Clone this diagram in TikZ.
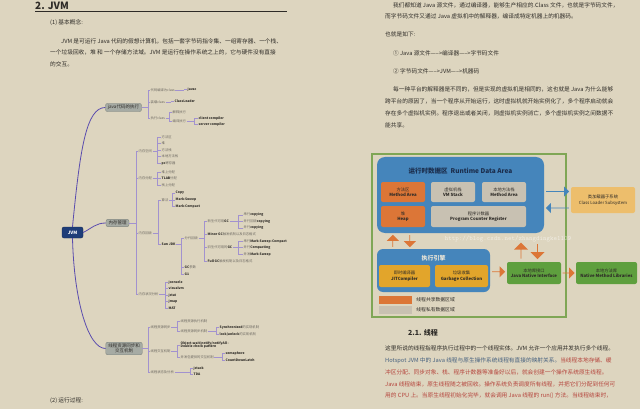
\documentclass[tikz,border=0pt]{standalone}
\usepackage{fontspec}
\setmainfont{Noto Sans CJK SC}
\usetikzlibrary{positioning,calc,shapes.arrows}
\definecolor{paper}{HTML}{DDD5BF}
\definecolor{ink}{HTML}{2E2B27}
\definecolor{soft}{HTML}{6B6760}
\definecolor{redink}{HTML}{B5443C}
\definecolor{blueink}{HTML}{45607F}
\definecolor{limbc}{HTML}{5A4CAE}
\definecolor{forkc}{HTML}{A292CF}
\definecolor{topicf}{HTML}{A6ABA4}
\definecolor{topicd}{HTML}{7E847E}
\definecolor{rootf}{HTML}{1E3D78}
\definecolor{area}{HTML}{4585BB}
\definecolor{shared}{HTML}{DC7637}
\definecolor{private}{HTML}{C8C1B2}
\definecolor{loader}{HTML}{EDBE6C}
\definecolor{engine}{HTML}{E2A52B}
\definecolor{native}{HTML}{5E9F3E}
\definecolor{frame}{HTML}{7FA655}
\definecolor{navy}{HTML}{1B2D4C}
\tikzset{
  txt/.style={anchor=west, inner sep=0pt, font=\fontsize{5.7}{7}\selectfont, text=ink},
  leaf/.style={anchor=west, inner sep=0.5pt, font=\fontsize{3.3}{3.9}\selectfont, text=soft, align=left},
  eleaf/.style={leaf, font=\bfseries\fontsize{3.3}{3.9}\selectfont, text=ink},
  topic/.style={draw=topicd, fill=topicf, rounded corners=2pt, inner xsep=2.5pt, inner ysep=1.6pt, align=center, font=\fontsize{4.5}{5.2}\selectfont, text=ink},
  fork/.style={draw=forkc, line width=0.5pt},
  limb/.style={draw=limbc, line width=0.8pt},
  box/.style={rounded corners=2pt, align=center, inner sep=0pt, font=\fontsize{4.3}{5.4}\selectfont, text=ink, fill=#1},
  blkarr/.style={single arrow, draw=none, fill=#1, inner sep=0pt, outer sep=0pt, single arrow head indent=0pt},
}
% bracket from a parent to its children, vertical bar at x=#2
\newcommand\mmfork[3]{%
  \coordinate (#1x) at (#2,0);
  \draw[fork] (#1.east) -- (#1.east -| #1x) coordinate (#1f);
  \foreach \kid in {#3} {\draw[fork] (#1f) |- (\kid.west);}
}
\begin{document}
\begin{tikzpicture}[x=1pt, y=-1pt]
\fill[paper] (0,0) rectangle (640,409);
\useasboundingbox (0,0) rectangle (640,409);

% ---------- left page
\node[anchor=west, inner sep=0pt, font=\bfseries\fontsize{10}{12}\selectfont, text=ink] (title) at (35,5.5) {2. JVM};
\draw[line width=0.9pt, ink] (35,11) -- (287,11);
\node[txt] (basic) at (50,23) {(1) 基本概念:};
\node[txt] (p1a) at (61,41) {JVM 是可运行 Java 代码的假想计算机，包括一套字节码指令集、一组寄存器、一个栈、};
\node[txt] (p1b) at (50,52.5) {一个垃圾回收，堆 和 一个存储方法域。JVM 是运行在操作系统之上的，它与硬件没有直接};
\node[txt] (p1c) at (50,64) {的交互。};
\node[txt] (runhd) at (50,401) {(2) 运行过程:};

% mind map
\node[draw=rootf!70!black, fill=rootf, rounded corners=2pt, minimum width=21pt, minimum height=11pt, inner sep=0pt, text=white, font=\bfseries\fontsize{4.5}{5}\selectfont] (jvm) at (72.5,232.5) {JVM};
\node[topic] (code) at (123.5,107.5) {java代码的执行};
\node[topic] (mem) at (117.5,223) {内存管理};
\node[topic] (thread) at (124,348.5) {线程资源同步和\\交互机制};
\draw[limb] (jvm.north) .. controls (80,150) and (86,107.5) .. (code.west);
\draw[limb] (jvm.east) .. controls (92,228) and (96,223) .. (mem.west);
\draw[limb] (jvm.south) .. controls (74,300) and (88,348.5) .. (thread.west);

% java code branch
\node[leaf] (compile) at (150,90) {代码编译为class};
\node[eleaf] (javac) at (187,89) {javac};
\node[leaf] (load) at (150,102) {装载class};
\node[eleaf] (cloader) at (174,101) {ClassLoader};
\node[leaf] (runcls) at (150,118) {执行class};
\node[leaf] (interp) at (172,112) {解释执行};
\node[leaf] (compiled) at (172,121) {编译执行};
\node[eleaf] (client) at (198,118) {client compiler};
\node[eleaf] (server) at (198,124.5) {server compiler};
\mmfork{code}{148}{compile,load,runcls}
\mmfork{compile}{184}{javac}
\mmfork{load}{171}{cloader}
\mmfork{runcls}{169}{interp,compiled}
\mmfork{compiled}{194}{client,server}

% memory branch
\node[leaf] (space) at (138,151) {内存空间};
\node[leaf] (alloc) at (138,178.5) {内存分配};
\node[leaf] (gcol) at (138,233) {内存回收};
\node[leaf] (watch) at (138,294.5) {内存状况分析};
\mmfork{mem}{136}{space,alloc,gcol,watch}
\node[leaf] (marea) at (161,137) {方法区};
\node[leaf] (mheap) at (161,143.5) {堆};
\node[leaf] (mstack) at (161,150) {方法栈};
\node[leaf] (mnstack) at (161,156.5) {本地方法栈};
\node[leaf] (mpc) at (161,163) {\textbf{\color{ink}pc}寄存器};
\mmfork{space}{157.5}{marea,mheap,mstack,mnstack,mpc}
\node[leaf] (heapal) at (161,172) {堆上分配};
\node[leaf] (tlab) at (161,178.5) {\textbf{\color{ink}TLAB}分配};
\node[leaf] (stackal) at (161,185) {栈上分配};
\mmfork{alloc}{157.5}{heapal,tlab,stackal}
\node[leaf] (algo) at (161,200) {算法};
\node[eleaf] (sunjdk) at (161,244) {Sun JDK};
\mmfork{gcol}{158}{algo,sunjdk}
\node[eleaf] (copy) at (175,193) {Copy};
\node[eleaf] (msweep) at (175,200) {Mark-Sweep};
\node[eleaf] (mcompact) at (175,206.5) {Mark-Compact};
\mmfork{algo}{172}{copy,msweep,mcompact}
\node[leaf] (gens) at (184,238) {分代回收};
\node[leaf] (gcparam) at (184,267) {\textbf{\color{ink}GC}参数};
\node[eleaf] (gone) at (184,274) {G1};
\mmfork{sunjdk}{181}{gens,gcparam,gone}
\node[leaf] (young) at (207,221) {新生代可用\textbf{\color{ink}GC}};
\node[leaf] (minor) at (207,234) {\textbf{\color{ink}Minor GC}触发机制以及日志格式};
\node[leaf] (old) at (207,247.5) {旧生代可用的\textbf{\color{ink}GC}};
\node[leaf] (full) at (207,261) {\textbf{\color{ink}Full GC}触发机制以及日志格式};
\mmfork{gens}{204}{young,minor,old,full}
\node[leaf] (ycopy) at (243,215) {串行\textbf{\color{ink}copying}};
\node[leaf] (ypcopy) at (243,221.5) {并行回收\textbf{\color{ink}copying}};
\node[leaf] (yccopy) at (243,228) {并行\textbf{\color{ink}copying}};
\mmfork{young}{238}{ycopy,ypcopy,yccopy}
\node[leaf] (omsc) at (243,241) {串行\textbf{\color{ink}Mark-Sweep-Compact}};
\node[leaf] (ocomp) at (243,247.5) {并行\textbf{\color{ink}Compacting}};
\node[leaf] (omsw) at (243,254) {并发\textbf{\color{ink}Mark-Sweep}};
\mmfork{old}{238}{omsc,ocomp,omsw}
\node[eleaf] (jconsole) at (168,282) {jconsole};
\node[eleaf] (visualvm) at (168,288.5) {visualvm};
\node[eleaf] (jstat) at (168,295) {jstat};
\node[eleaf] (jmap) at (168,301.5) {jmap};
\node[eleaf] (mat) at (168,308) {MAT};
\mmfork{watch}{165}{jconsole,visualvm,jstat,jmap,mat}

% thread branch
\node[leaf] (sync) at (150,327) {线程资源同步};
\node[leaf] (inter) at (150,351) {线程交互机制};
\node[leaf] (state) at (150,372) {线程状态及分析};
\mmfork{thread}{148}{sync,inter,state}
\node[leaf] (syncexec) at (180,321.5) {线程资源执行机制};
\node[leaf] (syncmech) at (180,331) {线程资源同步机制};
\mmfork{sync}{177}{syncexec,syncmech}
\node[leaf] (synchro) at (219,327.5) {\textbf{\color{ink}Synchronized}的实现机制};
\node[leaf] (lockun) at (219,334) {\textbf{\color{ink}lock/unlock}的实现机制};
\mmfork{syncmech}{216}{synchro,lockun}
\node[eleaf] (waitn) at (180,345) {Object.wait/notify/notifyAll -\\Double check pattern};
\node[leaf] (concur) at (180,357) {并发包提供的交互机制};
\mmfork{inter}{177}{waitn,concur}
\node[eleaf] (sema) at (225,353.5) {semaphore};
\node[eleaf] (cdl) at (225,360.5) {CountDownLatch};
\mmfork{concur}{222}{sema,cdl}
\node[eleaf] (jstack) at (193,368) {jstack};
\node[eleaf] (tda) at (193,374.5) {TDA};
\mmfork{state}{190}{jstack,tda}

% ---------- right page
\node[txt] (q1a) at (393,5) {我们都知道 Java 源文件，通过编译器，能够生产相应的.Class 文件，也就是字节码文件，};
\node[txt] (q1b) at (385,16.5) {而字节码文件又通过 Java 虚拟机中的解释器，编译成特定机器上的机器码。};
\node[txt] (q2) at (385,34.5) {也就是如下:};
\node[txt] (q3) at (393,53) {① Java 源文件—–>编译器—–>字节码文件};
\node[txt] (q4) at (393,71) {② 字节码文件—–>JVM—–>机器码};
\node[txt] (q5a) at (393,89) {每一种平台的解释器是不同的，但是实现的虚拟机是相同的，这也就是 Java 为什么能够};
\node[txt] (q5b) at (385,101) {跨平台的原因了，当一个程序从开始运行，这时虚拟机就开始实例化了，多个程序启动就会};
\node[txt] (q5c) at (385,113) {存在多个虚拟机实例。程序退出或者关闭，则虚拟机实例消亡，多个虚拟机实例之间数据不};
\node[txt] (q5d) at (385,125) {能共享。};

% JVM structure
\node[draw=frame, line width=1.2pt, minimum width=194pt, minimum height=163pt, inner sep=0pt] (frm) at (469,235.5) {};
\node[fill=area, rounded corners=8pt, minimum width=167pt, minimum height=76pt, inner sep=0pt] (rda) at (460.5,195) {};
\node[font=\bfseries\fontsize{6.5}{7}\selectfont, text=navy, inner sep=0pt] (rdat) at (460.5,171) {运行时数据区\ \ Runtime Data Area};
\node[box=shared, minimum width=44pt, minimum height=20pt] (ma) at (403,192) {方法区\\\textbf{Method Area}};
\node[box=private, minimum width=44pt, minimum height=20pt] (vms) at (453,192) {虚拟机栈\\\textbf{VM Stack}};
\node[box=private, minimum width=44pt, minimum height=20pt] (nms) at (504,192) {本地方法栈\\\textbf{Method Area}};
\node[box=shared, minimum width=44pt, minimum height=21pt] (heap) at (403,216.5) {堆\\\textbf{Heap}};
\node[box=private, minimum width=95pt, minimum height=21pt] (pcr) at (478.5,216.5) {程序计数器\\\textbf{Program Counter Register}};

\node[box=loader, minimum width=64pt, minimum height=26pt] (cls) at (603,200) {类加载器子系统\\Class Loader Subsystem};
\node[blkarr=area, minimum height=23pt, minimum width=10pt, single arrow head extend=2pt] (toload) at ($(rda.east)!0.5!(cls.west)+(0,-6)$) {};
\node[blkarr=area, minimum height=23pt, minimum width=10pt, single arrow head extend=2pt, shape border rotate=180] (fromload) at ($(rda.east)!0.5!(cls.west)+(0,10.5)$) {};

\node[fill=area, rounded corners=6pt, minimum width=113pt, minimum height=43pt, inner sep=0pt] (eng) at (433.5,270.5) {};
\node[font=\bfseries\fontsize{6}{7}\selectfont, text=paper!60!white, inner sep=0pt] (engt) at (433.5,258) {执行引擎};
\node[box=engine, minimum width=51pt, minimum height=22pt] (jit) at (404.5,276) {即时编译器\\\textbf{JITCompiler}};
\node[box=engine, minimum width=53pt, minimum height=22pt] (gc) at (461.5,276) {垃圾收集\\\textbf{Garbage Collection}};
\node[blkarr=shared, minimum height=12pt, minimum width=12pt, single arrow head extend=2.5pt, shape border rotate=90] (up1) at ($(rda.south west)!0.5!(eng.north west)+(16,0)$) {};
\node[blkarr=shared, minimum height=12pt, minimum width=12pt, single arrow head extend=2.5pt, shape border rotate=270] (dn1) at ($(rda.south west)!0.5!(eng.north west)+(33,0)$) {};

\node[box=native, minimum width=54pt, minimum height=22pt] (jni) at (534,273) {本地库接口\\\textbf{Java Native Interface}};
\node[box=native, minimum width=61pt, minimum height=22pt] (nml) at (606.5,273) {本地方法库\\\textbf{Native Method Libraries}};
\node[blkarr=shared, minimum height=13pt, minimum width=11pt, single arrow head extend=2.5pt] (tojni) at ($(eng.east)!0.5!(jni.west)$) {};
\node[blkarr=shared, minimum height=12pt, minimum width=11pt, single arrow head extend=2.5pt] (tonml) at ($(jni.east)!0.5!(nml.west)$) {};
\node[blkarr=shared, minimum height=16pt, minimum width=14pt, single arrow head extend=3pt, shape border rotate=90] (up2) at ($(jni.north)+(-13,-11)$) {};
\node[blkarr=shared, minimum height=15pt, minimum width=14pt, single arrow head extend=3pt, shape border rotate=270] (dn2) at ($(jni.north)+(3.5,-10.5)$) {};

\node[font=\ttfamily\fontsize{6.6}{7}\selectfont, text=white, opacity=0.55, inner sep=0pt] (wm) at (508,239) {http://blog.csdn.net/zhangdingke1109};

% legend
\node[fill=shared, minimum width=33pt, minimum height=7.5pt, inner sep=0pt] (lgs) at (395.5,300) {};
\node[fill=private, minimum width=33pt, minimum height=7.5pt, inner sep=0pt] (lgp) at (395.5,310) {};
\node[right=4pt of lgs, inner sep=0pt, font=\fontsize{4.8}{5}\selectfont, text=ink] (lgst) {线程共享数据区域};
\node[right=4pt of lgp, inner sep=0pt, font=\fontsize{4.8}{5}\selectfont, text=ink] (lgpt) {线程私有数据区域};

% thread section
\node[anchor=west, inner sep=0pt, font=\bfseries\fontsize{7}{8}\selectfont, text=ink] (sec) at (408,333) {2.1. 线程};
\node[txt] (r1) at (385,348) {这里所说的线程指程序执行过程中的一个线程实体。JVM 允许一个应用并发执行多个线程。};
\node[txt] (r2) at (385,360.5) {\textcolor{blueink}{Hotspot JVM 中的 Java 线程与原生操作系统线程有直接的映射关系。}\textcolor{redink}{当线程本地存储、缓}};
\node[txt, text=redink] (r3) at (385,372.5) {冲区分配、同步对象、栈、程序计数器等准备好以后，就会创建一个操作系统原生线程。};
\node[txt, text=redink] (r4) at (385,384) {Java 线程结束，原生线程随之被回收。操作系统负责调度所有线程，并把它们分配到任何可};
\node[txt, text=redink] (r5) at (385,395.5) {用的 CPU 上。当原生线程初始化完毕，就会调用 Java 线程的 run() 方法。当线程结束时，};
\end{tikzpicture}
\end{document}
